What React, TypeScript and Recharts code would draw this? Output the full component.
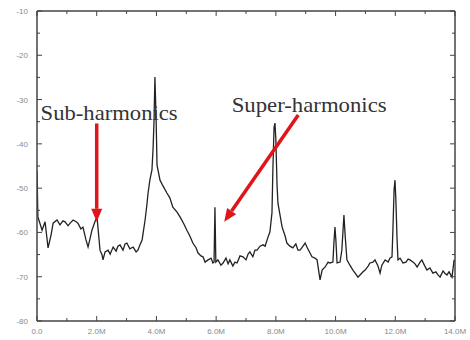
import React from "react";
import { LineChart, Line, XAxis, YAxis, ReferenceLine, ReferenceDot } from "recharts";

const freqMHz = [
  0.0, 0.03, 0.17, 0.27, 0.37, 0.47, 0.54, 0.67, 0.77, 0.87, 0.94, 1.04, 1.11, 1.21, 1.31, 1.37, 1.47, 1.54, 1.64, 1.71,
  1.78, 1.84, 1.94, 2.01, 2.08, 2.11, 2.18, 2.21, 2.28, 2.38, 2.45, 2.55, 2.65, 2.71, 2.78, 2.88, 2.95, 3.01, 3.11, 3.22,
  3.32, 3.38, 3.45, 3.52, 3.62, 3.68, 3.72, 3.78, 3.85, 3.89, 3.92, 3.95, 3.99, 4.02, 4.12, 4.22, 4.35, 4.45, 4.55, 4.69,
  4.79, 4.92, 5.02, 5.12, 5.22, 5.33, 5.39, 5.49, 5.56, 5.63, 5.73, 5.83, 5.89, 5.93, 5.96, 5.99, 6.06, 6.16, 6.23, 6.33,
  6.4, 6.46, 6.56, 6.63, 6.7, 6.8, 6.9, 7.0, 7.07, 7.13, 7.23, 7.3, 7.37, 7.47, 7.57, 7.64, 7.74, 7.8, 7.87, 7.9,
  7.94, 7.97, 8.0, 8.04, 8.07, 8.14, 8.21, 8.31, 8.37, 8.47, 8.57, 8.67, 8.74, 8.81, 8.91, 8.98, 9.04, 9.14, 9.21, 9.31,
  9.38, 9.44, 9.48, 9.55, 9.65, 9.75, 9.81, 9.91, 9.95, 9.98, 10.01, 10.05, 10.15, 10.21, 10.25, 10.28, 10.32, 10.38, 10.48, 10.58,
  10.68, 10.75, 10.85, 10.92, 10.99, 11.09, 11.15, 11.25, 11.32, 11.42, 11.49, 11.55, 11.66, 11.76, 11.82, 11.89, 11.92, 11.96, 11.99, 12.02,
  12.06, 12.09, 12.16, 12.26, 12.36, 12.43, 12.49, 12.59, 12.66, 12.73, 12.83, 12.89, 12.99, 13.06, 13.16, 13.26, 13.36, 13.43, 13.5, 13.6,
  13.66, 13.73, 13.8, 13.9, 13.97, 14.0,
];

const levelDb = [
  -46.0, -56.5, -59.5, -57.6, -63.5, -60.6, -57.9, -57.2, -58.3, -57.4, -57.6, -58.5, -57.9, -57.2, -57.6, -57.9, -59.2, -58.8, -61.7, -63.3,
  -61.3, -59.5, -57.6, -56.5, -61.7, -64.0, -65.1, -66.2, -64.4, -64.0, -64.9, -63.3, -64.2, -63.1, -62.8, -64.0, -62.6, -62.4, -63.7, -63.3,
  -64.4, -64.0, -62.8, -61.7, -57.2, -53.8, -51.1, -48.2, -45.9, -40.7, -34.6, -24.9, -34.6, -44.8, -48.2, -49.5, -51.1, -52.2, -54.3, -55.4,
  -56.5, -58.1, -59.5, -60.8, -62.4, -63.5, -64.6, -65.3, -65.5, -66.7, -66.2, -65.8, -66.9, -66.7, -54.3, -66.7, -66.2, -67.4, -66.9, -65.8,
  -67.1, -66.2, -67.6, -66.7, -66.9, -65.3, -65.5, -66.2, -64.9, -64.4, -65.5, -64.0, -64.0, -63.1, -62.8, -63.1, -61.0, -59.9, -55.6, -45.9,
  -36.2, -35.3, -39.1, -49.3, -53.4, -56.1, -58.8, -60.8, -62.4, -63.1, -63.5, -62.6, -64.0, -64.0, -63.1, -62.4, -63.3, -64.6, -65.5, -65.8,
  -66.2, -68.9, -70.7, -68.5, -67.8, -66.7, -66.9, -66.7, -61.7, -58.8, -61.7, -66.9, -66.7, -64.0, -59.5, -56.1, -60.6, -66.2, -67.4, -68.5,
  -69.4, -70.1, -69.4, -68.9, -68.5, -67.6, -66.9, -66.7, -66.2, -67.6, -69.2, -67.4, -66.2, -66.7, -65.8, -65.5, -59.5, -50.4, -48.2, -52.7,
  -61.7, -66.2, -65.8, -66.9, -66.7, -66.0, -66.2, -66.7, -67.1, -67.8, -66.7, -66.2, -67.6, -68.5, -68.0, -69.2, -68.9, -69.6, -70.1, -68.7,
  -69.2, -69.6, -68.9, -70.1, -66.2, -66.7,
];

const xTicks = [0, 1, 2, 3, 4, 5, 6, 7, 8, 9, 10, 11, 12, 13, 14];
const xLabels: Record<number, string> = { 0: "0.0", 2: "2.0M", 4: "4.0M", 6: "6.0M", 8: "8.0M", 10: "10.0M", 12: "12.0M", 14: "14.0M" };
const yTicks = [-80, -75, -70, -65, -60, -55, -50, -45, -40, -35, -30, -25, -20, -15, -10];
const yLabels: Record<number, string> = { [-80]: "-80", [-70]: "-70", [-60]: "-60", [-50]: "-50", [-40]: "-40", [-30]: "-30", [-20]: "-20", [-10]: "-10" };

const annotations = [
  { text: "Sub-harmonics", x: 0.12, y: -34.6, width: 137 },
  { text: "Super-harmonics", x: 6.52, y: -32.7, width: 155 },
];
const arrows = [
  { from: { x: 2.0, y: -35.4 }, to: { x: 2.0, y: -57.6 } },
  { from: { x: 8.75, y: -33.5 }, to: { x: 6.27, y: -57.6 } },
];

const data = freqMHz.map((f, i) => ({ f, db: levelDb[i] }));

const AXIS = "#444";
const LABEL = "#8a8a8a";

const BottomTick = (props: any) => {
  const { x, y, payload } = props;
  const v = payload.value as number;
  const lbl = xLabels[v];
  return (
    <g>
      <line x1={x} y1={y} x2={x} y2={y - (lbl ? 5 : 3)} stroke={AXIS} strokeWidth={1} />
      {lbl ? (
        <text x={x} y={y + 13} textAnchor="middle" fontSize={8} fill={LABEL} fontFamily="Liberation Sans, Arial, sans-serif">
          {lbl}
        </text>
      ) : null}
    </g>
  );
};

const TopTick = (props: any) => {
  const { x, y, payload } = props;
  const major = xLabels[payload.value as number];
  return <line x1={x} y1={y} x2={x} y2={y + (major ? 5 : 3)} stroke={AXIS} strokeWidth={1} />;
};

const LeftTick = (props: any) => {
  const { x, y, payload } = props;
  const v = payload.value as number;
  const lbl = yLabels[v];
  return (
    <g>
      <line x1={x} y1={y} x2={x + (lbl ? 5 : 3)} y2={y} stroke={AXIS} strokeWidth={1} />
      {lbl ? (
        <text x={x - 9} y={y + 3} textAnchor="end" fontSize={8} fill={LABEL} fontFamily="Liberation Sans, Arial, sans-serif">
          {lbl}
        </text>
      ) : null}
    </g>
  );
};

const RightTick = (props: any) => {
  const { x, y, payload } = props;
  const major = yLabels[payload.value as number];
  return <line x1={x} y1={y} x2={x - (major ? 5 : 3)} y2={y} stroke={AXIS} strokeWidth={1} />;
};

const Arrow = (props: any) => {
  const { x1, y1, x2, y2 } = props;
  const ang = Math.atan2(y2 - y1, x2 - x1);
  const len = 13;
  const half = 5.5;
  const bx = x2 - len * Math.cos(ang);
  const by = y2 - len * Math.sin(ang);
  const px = -Math.sin(ang) * half;
  const py = Math.cos(ang) * half;
  return (
    <g>
      <line x1={x1} y1={y1} x2={bx} y2={by} stroke="#e0141b" strokeWidth={3.5} />
      <polygon points={`${x2},${y2} ${bx + px},${by + py} ${bx - px},${by - py}`} fill="#e0141b" />
    </g>
  );
};

const makeText = (text: string, width: number) => (props: any) => {
  const { cx, cy } = props;
  return (
    <text
      x={cx}
      y={cy}
      fontSize={22}
      fill="#333"
      fontFamily="Liberation Serif, Times New Roman, serif"
      textLength={width}
      lengthAdjust="spacingAndGlyphs"
    >
      {text}
    </text>
  );
};

export default function App() {
  return (
    <div style={{ position: "absolute", left: 0, top: 0, width: 470, height: 340, background: "#fff" }}>
      <LineChart width={470} height={340} data={data} margin={{ top: 0, right: 0, bottom: 0, left: 0 }}>
        <XAxis
          xAxisId="b"
          dataKey="f"
          type="number"
          domain={[0, 14]}
          ticks={xTicks}
          interval={0}
          orientation="bottom"
          height={19}
          tickSize={0}
          tickMargin={0}
          tickLine={false}
          axisLine={{ stroke: AXIS, strokeWidth: 1.5 }}
          tick={<BottomTick />}
          allowDataOverflow
        />
        <XAxis
          xAxisId="t"
          dataKey="f"
          type="number"
          domain={[0, 14]}
          ticks={xTicks}
          interval={0}
          orientation="top"
          height={11}
          tickSize={0}
          tickMargin={0}
          tickLine={false}
          axisLine={{ stroke: AXIS, strokeWidth: 1.5 }}
          tick={<TopTick />}
          allowDataOverflow
        />
        <YAxis
          yAxisId="l"
          type="number"
          domain={[-80, -10]}
          ticks={yTicks}
          interval={0}
          orientation="left"
          width={37}
          tickSize={0}
          tickMargin={0}
          tickLine={false}
          axisLine={{ stroke: AXIS, strokeWidth: 1.5 }}
          tick={<LeftTick />}
          allowDataOverflow
        />
        <YAxis
          yAxisId="r"
          type="number"
          domain={[-80, -10]}
          ticks={yTicks}
          interval={0}
          orientation="right"
          width={15}
          tickSize={0}
          tickMargin={0}
          tickLine={false}
          axisLine={{ stroke: AXIS, strokeWidth: 1.5 }}
          tick={<RightTick />}
          allowDataOverflow
        />
        <Line
          xAxisId="b"
          yAxisId="l"
          type="linear"
          dataKey="db"
          stroke="#222"
          strokeWidth={1.3}
          dot={false}
          isAnimationActive={false}
        />
        {arrows.map((a, i) => (
          <ReferenceLine
            key={"a" + i}
            xAxisId="b"
            yAxisId="l"
            segment={[a.from, a.to]}
            ifOverflow="visible"
            shape={<Arrow />}
          />
        ))}
        {annotations.map((t, i) => (
          <ReferenceDot
            key={"t" + i}
            xAxisId="b"
            yAxisId="l"
            x={t.x}
            y={t.y}
            r={0}
            ifOverflow="visible"
            shape={makeText(t.text, t.width)}
          />
        ))}
      </LineChart>
    </div>
  );
}
